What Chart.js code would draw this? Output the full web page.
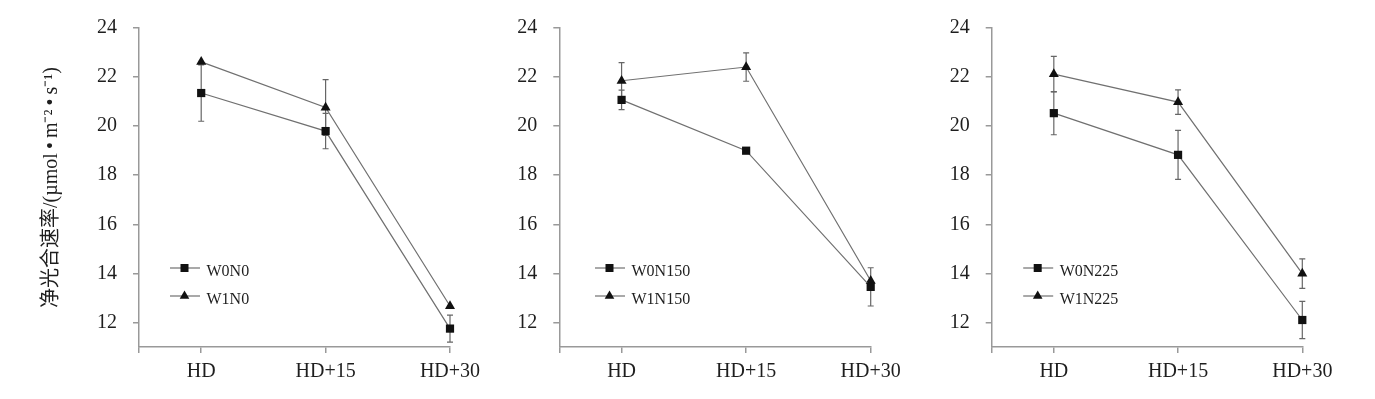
<!DOCTYPE html>
<html><head><meta charset="utf-8">
<script src="https://cdn.jsdelivr.net/npm/chart.js@4/dist/chart.umd.min.js"></script>
<style>
html,body{margin:0;padding:0;background:#fff;overflow:hidden}
#wrap{position:relative;width:1375px;height:399px}
canvas{position:absolute;top:0}
</style></head><body>
<div id="wrap">
<canvas id="c1" width="500" height="399" style="left:0px"></canvas>
<canvas id="c2" width="450" height="399" style="left:480px"></canvas>
<canvas id="c3" width="470" height="399" style="left:905px"></canvas>
</div>
<script>
// ---- data ----
const categories = ['HD', 'HD+15', 'HD+30'];
const yTickValues = [12, 14, 16, 18, 20, 22, 24];
const yTitle = '净光合速率/(µmol\u2009•\u2009m⁻²\u2009•\u2009s⁻¹)';

const labelsN0 = ['W0N0', 'W1N0'];
const w0n0 = [21.35, 19.8, 11.75];
const w0n0Err = [1.15, 0.72, 0.55];
const w1n0 = [22.62, 20.76, 12.67];
const w1n0Err = [0, 1.14, 0];

const labelsN150 = ['W0N150', 'W1N150'];
const w0n150 = [21.07, 19.0, 13.45];
const w0n150Err = [0.4, 0, 0.78];
const w1n150 = [21.85, 22.41, 13.7];
const w1n150Err = [0.74, 0.58, 0];

const labelsN225 = ['W0N225', 'W1N225'];
const w0n225 = [20.53, 18.83, 12.1];
const w0n225Err = [0.88, 1.0, 0.76];
const w1n225 = [22.12, 20.98, 13.99];
const w1n225Err = [0.72, 0.5, 0.6];

// ---- styling ----
const SERIF = '"Liberation Serif", "Times New Roman", "Noto Sans CJK SC", serif';
const AXIS_COLOR = '#999999';
const LINE_COLOR = '#707070';
const MARK_COLOR = '#111111';
const TEXT_COLOR = '#1e1e1e';

const errorBars = {
  id: 'errorBars',
  beforeDatasetsDraw(chart) {
    const ctx = chart.ctx, xs = chart.scales.x, ys = chart.scales.y;
    ctx.save();
    ctx.strokeStyle = '#666666';
    ctx.lineWidth = 1.2;
    chart.data.datasets.forEach(ds => {
      ds.data.forEach((p, i) => {
        const e = ds.errors[i];
        if (!e) return;
        const x = xs.getPixelForValue(p.x);
        const y1 = ys.getPixelForValue(p.y - e);
        const y2 = ys.getPixelForValue(p.y + e);
        ctx.beginPath();
        ctx.moveTo(x, y1); ctx.lineTo(x, y2);
        ctx.moveTo(x - 3, y1); ctx.lineTo(x + 3, y1);
        ctx.moveTo(x - 3, y2); ctx.lineTo(x + 3, y2);
        ctx.stroke();
      });
    });
    ctx.restore();
  }
};

const sideLegend = {
  id: 'sideLegend',
  afterDraw(chart, args, opts) {
    const ctx = chart.ctx;
    const x0 = chart.chartArea.left + opts.dx;
    ctx.save();
    chart.data.datasets.forEach((ds, k) => {
      const y = opts.y + k * opts.rowGap;
      ctx.strokeStyle = LINE_COLOR;
      ctx.lineWidth = 1.2;
      ctx.beginPath();
      ctx.moveTo(x0, y); ctx.lineTo(x0 + 30, y);
      ctx.stroke();
      ctx.fillStyle = MARK_COLOR;
      const mx = x0 + 14.5;
      ctx.beginPath();
      if (ds.pointStyle === 'rect') {
        ctx.rect(mx - 4, y - 4, 8, 8);
      } else {
        ctx.moveTo(mx, y - 5.5);
        ctx.lineTo(mx + 4.8, y + 2.75);
        ctx.lineTo(mx - 4.8, y + 2.75);
        ctx.closePath();
      }
      ctx.fill();
      ctx.fillStyle = TEXT_COLOR;
      ctx.font = '16px ' + SERIF;
      ctx.textBaseline = 'alphabetic';
      ctx.textAlign = 'left';
      ctx.fillText(ds.label, x0 + 36.5, y + 8);
    });
    ctx.restore();
  }
};

function series(label, vals, errs, style) {
  return {
    label: label,
    data: categories.map((c, i) => ({ x: i, y: vals[i] })),
    errors: errs,
    borderColor: LINE_COLOR,
    borderWidth: 1.2,
    pointStyle: style,
    pointRadius: 5.8,
    pointBackgroundColor: MARK_COLOR,
    pointBorderColor: MARK_COLOR,
    pointBorderWidth: 0,
    tension: 0,
    clip: false
  };
}

function makePanel(id, labels, a, aErr, b, bErr, cfg) {
  new Chart(document.getElementById(id), {
    type: 'line',
    data: {
      datasets: [
        series(labels[0], a, aErr, 'rect'),
        series(labels[1], b, bErr, 'triangle')
      ]
    },
    plugins: [errorBars, sideLegend],
    options: {
      responsive: false,
      animation: false,
      events: [],
      layout: { padding: { top: 24, right: cfg.padRight, left: 0, bottom: 0 } },
      plugins: {
        legend: { display: false },
        tooltip: { enabled: false },
        sideLegend: { dx: cfg.legendDx, y: 268, rowGap: 28 }
      },
      scales: {
        x: {
          type: 'linear',
          min: -0.5,
          max: categories.length - 1,
          afterBuildTicks: s => { s.ticks = [{ value: -0.5 }].concat(categories.map((c, i) => ({ value: i }))); },
          afterFit: s => { s.height = 52; },
          ticks: {
            autoSkip: false,
            maxRotation: 0,
            padding: 7,
            color: TEXT_COLOR,
            font: { family: SERIF, size: 20 },
            callback: v => (Number.isInteger(v) ? categories[v] : '')
          },
          grid: { drawOnChartArea: false, drawTicks: true, tickLength: 6, color: AXIS_COLOR, lineWidth: 1.5 },
          border: { display: true, color: AXIS_COLOR, width: 1.5 }
        },
        y: {
          type: 'linear',
          min: 11,
          max: 24,
          afterBuildTicks: s => { s.ticks = yTickValues.map(v => ({ value: v })); },
          afterFit: s => { s.width = cfg.axisWidth; },
          ticks: {
            padding: 16,
            color: TEXT_COLOR,
            font: { family: SERIF, size: 20 }
          },
          title: {
            display: cfg.title,
            text: yTitle,
            color: TEXT_COLOR,
            font: { family: SERIF, size: 20 },
            padding: { top: 40, bottom: 0 }
          },
          grid: { drawOnChartArea: false, drawTicks: true, tickLength: 6, color: AXIS_COLOR, lineWidth: 1.5 },
          border: { display: true, color: AXIS_COLOR, width: 1.5 }
        }
      }
    }
  });
}

makePanel('c1', labelsN0, w0n0, w0n0Err, w1n0, w1n0Err,
  { axisWidth: 139, padRight: 50, legendDx: 31, title: true });
makePanel('c2', labelsN150, w0n150, w0n150Err, w1n150, w1n150Err,
  { axisWidth: 79.3, padRight: 59.3, legendDx: 35.7, title: false });
makePanel('c3', labelsN225, w0n225, w0n225Err, w1n225, w1n225Err,
  { axisWidth: 86.7, padRight: 72.7, legendDx: 31.5, title: false });
</script>
</body></html>
